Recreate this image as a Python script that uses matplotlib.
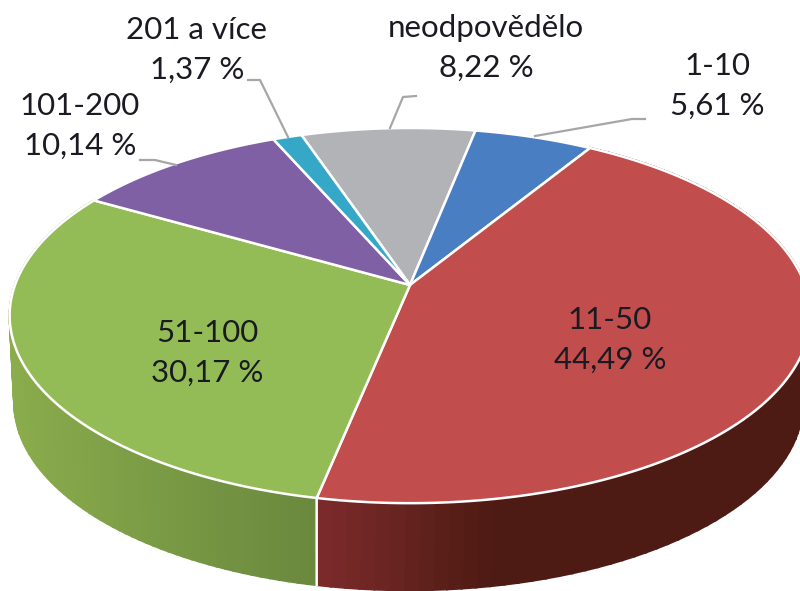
import numpy as np
import matplotlib
matplotlib.use('Agg')
import matplotlib.pyplot as plt
from matplotlib.colors import to_rgb

labels = ['neodpovědělo', '1-10', '11-50', '51-100', '101-200', '201 a více']
values = [8.22, 5.61, 44.49, 30.17, 10.14, 1.37]
colors = ['#B2B3B7', '#4A7EC2', '#C24D4D', '#94BC56', '#8060A4', '#35A8C8']
side_left = {'11-50': '#7C2B2B', '51-100': '#8AAC4C'}
side_right = {'11-50': '#4E1B14', '51-100': '#69883D'}
label_pos = [(486, 48), (717, 86), (610, 340), (207, 353), (80, 126), (197, 50)]
leaders = [[(416, 96), (403, 97), (390, 128)],
           [(645, 119), (632, 119), (535, 136)],
           None,
           None,
           [(140, 160), (155, 160), (176, 165)],
           [(248, 80), (260, 80), (288, 137)]]

start_angle = -18.5
cx, cy = 410, 285
a, b, p = 395, 182.6, 0.163
depth = 87


def project(theta, r=1.0):
    # tilted disc seen with some perspective, theta clockwise from the back
    t = np.radians(theta)
    w = 1 + p * r * np.cos(t)
    return cx + a * r * np.sin(t) / w, cy - b * r * np.cos(t) / w


def lower(theta):
    x, y = project(theta)
    return 318 + (x - 318) * 0.985, y + depth


fig = plt.figure(figsize=(8, 5.91), dpi=100)
ax = fig.add_axes([0, 0, 1, 1])
ax.set_xlim(0, 800)
ax.set_ylim(591, 0)
ax.axis('off')

edges = start_angle + np.cumsum([0] + values) * 3.6

# side of the pie
for i, name in enumerate(labels):
    if name not in side_left:
        continue
    th = np.linspace(edges[i], edges[i + 1], 90)
    c0, c1 = np.array(to_rgb(side_left[name])), np.array(to_rgb(side_right[name]))
    xs = project(th)[0]
    for k in range(len(th) - 1):
        x0, y0 = project(th[k])
        x1, y1 = project(th[k + 1])
        x2, y2 = lower(th[k + 1])
        x3, y3 = lower(th[k])
        xm = (x0 + x1) / 2
        if name == '11-50':
            f = min(1, max(0, (xm - 318) / 170))
        else:
            f = (xm - xs.min()) / (xs.max() - xs.min())
        col = c0 + (c1 - c0) * f
        ax.fill([x0, x1, x2, x3], [y0, y1, y2, y3], color=col, lw=1.6, zorder=1)

# white seam between the two visible side parts
x_s, y_s = project(edges[3])
x_e, y_e = lower(edges[3])
ax.plot([x_s, x_e], [y_s, y_e], color='white', lw=1.8, zorder=2)

# top face
for i, name in enumerate(labels):
    th = np.linspace(edges[i], edges[i + 1], 200)
    x, y = project(th)
    ax.fill(np.r_[cx, x], np.r_[cy, y], facecolor=colors[i], edgecolor='white',
            lw=1.8, joinstyle='round', zorder=3)

# leader lines
for pts in leaders:
    if pts is not None:
        ax.plot(*zip(*pts), color='#A6A6A6', lw=1.6, zorder=4)

# labels
for name, val, pos in zip(labels, values, label_pos):
    txt = name + '\n' + f'{val:.2f}'.replace('.', ',') + ' %'
    ax.text(pos[0], pos[1], txt, ha='center', va='center', family='Lato',
            fontsize=22.5, color='#1A1A22', linespacing=1.52, zorder=5)

fig.savefig('out.png', dpi=100)
